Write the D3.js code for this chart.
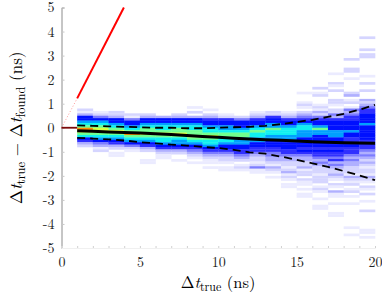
<!DOCTYPE html>
<html>
<head>
<meta charset="utf-8">
<script src="https://cdn.jsdelivr.net/npm/d3@7"></script>
<style>
  body { margin: 0; background: #fff; }
  svg { display: block; }
  .tick text { font-family: "Latin Modern Roman", "Liberation Serif", "DejaVu Serif", serif; }
  .lbl { font-family: "Latin Modern Roman", "Liberation Serif", "DejaVu Serif", serif; }
</style>
</head>
<body>
<svg id="chart"></svg>
<script>
// histogram columns: column k spans [k, k+1]; each char is one 0.1 ns bin, from colTop downwards
// '.' = empty, '1'..'9','a','b' = count level
let colStart = [1,2,3,4,5,6,7,8,9,10,11,12,13,14,15,16,17,18,19]
let colTop = [0.8,0.7,0.7,0.6,0.6,0.5,0.6,0.9,0.8,0.6,0.5,0.7,0.7,0.7,1.5,1.7,2.3,2.9,3.8]
let colBins = [
  "21366789ba986532",
  "1246789aa98764312",
  "22366789a9876532.11",
  "21466789b9876421",
  "23667899a9876532...11",
  "3667889a9887653211",
  "23667899a98776532..1",
  "1.2.36678899a98765432 1.1",
  "1.235667889a988765432 11.1",
  "125667789988766543221.11",
  "2466678998776655432.121",
  "12356678988776655432212411",
  "22566779887766655443321321.1",
  "12356678887766665543322123121.11",
  "1...121.2345678877766665654332231 22.211.1.11",
  "2.12...12132456679776666656554343222122 2.12 1..1..11",
  "1...21.2...221.224356666777666656554534322321.21.311..1...11",
  "2...22..1.....23.12.14345566667665566555434332221321 2.12.1..1.........1..1",
  "2....2.22.......1..2..2...3234556666766666656554343232122132 1.21.2..1...2.......11.1"
]

// median and quantile curves
let lineX = [1,2,3,4,5,6,7,8,9,10,11,12,13,14,15,16,17,18,19,20]
let medianY = [-0.12,-0.15,-0.18,-0.2,-0.22,-0.25,-0.28,-0.32,-0.36,-0.4,-0.44,-0.47,-0.5,-0.52,-0.55,-0.58,-0.6,-0.62,-0.63,-0.64]
let upperY = [0.1,0.08,0.06,0.04,0.02,0.0,0.0,-0.02,-0.02,0.0,0.02,0.04,0.08,0.15,0.24,0.33,0.45,0.58,0.75,0.95]
let lowerY = [-0.42,-0.45,-0.48,-0.53,-0.6,-0.65,-0.7,-0.74,-0.8,-0.84,-0.92,-1.02,-1.08,-1.2,-1.33,-1.48,-1.63,-1.8,-1.98,-2.18]

// red reference line
let redX = [1, 3.98]
let redY = [1.22, 5]

let xTicks = [0,5,10,15,20]
let yTicks = [-5,-4,-3,-2,-1,0,1,2,3,4,5]

let levelColors = ["#ebebff","#d5d5ff","#b0b0ff","#7c7cff","#3030ff","#0010ff","#00a0ff","#10f0f0","#70ff90","#d8ff40","#ff8c00"]

let width = 382, height = 295
let svg = d3.select('#chart').attr('width', width).attr('height', height)

let xScale = d3.scaleLinear().domain([0, 20]).range([61.5, 375])
let yScale = d3.scaleLinear().domain([-5, 5]).range([248, 7.5])
let color = d3.scaleOrdinal().domain(d3.range(1, 12)).range(levelColors)

// flatten bins
let cells = []
colBins.forEach((str, c) => {
  let s = str.replace(/ /g, '')
  for (let i = 0; i < s.length; i++) {
    let ch = s[i]
    if (ch === '.') continue
    let lev = parseInt(ch, 16)
    let top = colTop[c] - 0.1 * i
    cells.push({ x0: colStart[c], x1: colStart[c] + 1, y0: top - 0.1, y1: top, lev })
  }
})

svg.append('g')
  .selectAll('rect')
  .data(cells)
  .join('rect')
  .attr('x', d => xScale(d.x0))
  .attr('width', d => xScale(d.x1) - xScale(d.x0) + 0.3)
  .attr('y', d => yScale(d.y1))
  .attr('height', d => yScale(d.y0) - yScale(d.y1) + 0.3)
  .attr('fill', d => color(d.lev))

// axes
let axisY = d3.axisLeft(yScale).tickValues(yTicks).tickSize(-3).tickPadding(7)
  .tickFormat(d => String(d))
let gy = svg.append('g').attr('transform', `translate(${xScale(0)},0)`).call(axisY)
gy.select('.domain').attr('stroke', '#8c8c8c').attr('stroke-width', 1)
gy.selectAll('.tick line').attr('stroke', '#c8c8c8')
gy.selectAll('.tick text').attr('font-size', 14).attr('fill', '#222')

let axisX = d3.axisBottom(xScale).tickValues(d3.range(0, 21)).tickSize(-2).tickPadding(9)
  .tickFormat(d => xTicks.includes(d) ? String(d) : '')
let gx = svg.append('g').attr('transform', `translate(0,${yScale(-5)})`).call(axisX)
gx.select('.domain').attr('stroke', '#f0f0f0')
gx.selectAll('.tick line').attr('stroke', '#d0d0d0')
gx.selectAll('.tick text').attr('font-size', 14).attr('fill', '#222')

// lines
let line = d3.line().x(d => xScale(d[0])).y(d => yScale(d[1]))

svg.append('path')
  .datum([[0, 0], [redX[0], redY[0]]])
  .attr('d', line)
  .attr('fill', 'none').attr('stroke', '#ff9a9a').attr('stroke-width', 1)
  .attr('stroke-dasharray', '1,2')

svg.append('path')
  .datum([[0, 0], [1, 0]])
  .attr('d', line)
  .attr('fill', 'none').attr('stroke', '#7a0a0a').attr('stroke-width', 1.8)

svg.append('path')
  .datum(redX.map((v, i) => [v, redY[i]]))
  .attr('d', line)
  .attr('fill', 'none').attr('stroke', '#ff0000').attr('stroke-width', 2)

svg.append('path')
  .datum(lineX.map((v, i) => [v, medianY[i]]))
  .attr('d', line)
  .attr('fill', 'none').attr('stroke', '#000').attr('stroke-width', 3)

;[upperY, lowerY].forEach(arr => {
  svg.append('path')
    .datum(lineX.map((v, i) => [v, arr[i]]))
    .attr('d', line)
    .attr('fill', 'none').attr('stroke', '#000').attr('stroke-width', 1.8)
    .attr('stroke-dasharray', '8,5')
})

// axis labels
let xl = svg.append('text').attr('class', 'lbl')
  .attr('x', 218).attr('y', 288).attr('text-anchor', 'middle').attr('font-size', 16.5)
xl.append('tspan').text('Δ')
xl.append('tspan').attr('font-style', 'italic').text('t')
xl.append('tspan').attr('font-size', 12).attr('dy', 3).text('true')
xl.append('tspan').attr('dy', -3).text(' (ns)')

let yl = svg.append('text').attr('class', 'lbl')
  .attr('transform', `translate(22,${yScale(0)}) rotate(-90)`)
  .attr('text-anchor', 'middle').attr('font-size', 17)
yl.append('tspan').text('Δ')
yl.append('tspan').attr('font-style', 'italic').text('t')
yl.append('tspan').attr('font-size', 12.5).attr('dy', 3).text('true')
yl.append('tspan').attr('dy', -3).text(' − Δ')
yl.append('tspan').attr('font-style', 'italic').text('t')
yl.append('tspan').attr('font-size', 12.5).attr('dy', 3).text('found')
yl.append('tspan').attr('dy', -3).text(' (ns)')
</script>
</body>
</html>
